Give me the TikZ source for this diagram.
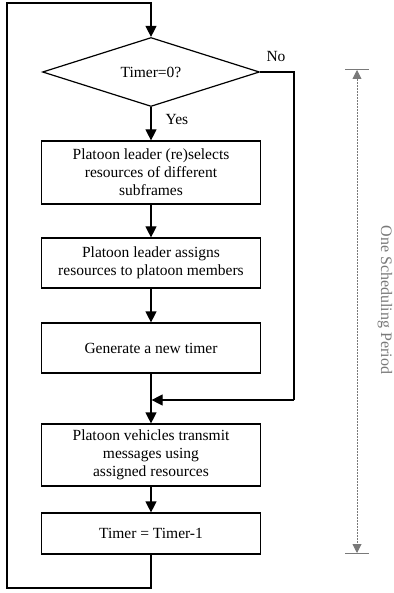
\documentclass[tikz,border=0pt]{standalone}
\usepackage{fontspec}
\setmainfont{Liberation Serif}
\usetikzlibrary{arrows.meta,shapes.geometric}
\begin{document}
\begin{tikzpicture}[x=1pt,y=-1pt,
  flow/.style={line width=1.2pt,-{Triangle[length=11pt,width=11pt]}},
  plain/.style={line width=1.2pt},
  box/.style={draw,line width=1.2pt,minimum width=219pt,align=center,font=\fontsize{15.5}{18}\selectfont,inner sep=0pt},
  lbl/.style={font=\fontsize{15.5}{18}\selectfont},
  dimc/.style={color=gray!95!black}]
\useasboundingbox (0,0) rectangle (393,593);
\node[draw,line width=1.2pt,diamond,aspect=3.15,minimum width=217pt,minimum height=69pt,inner sep=0pt,font=\fontsize{15.5}{18}\selectfont] (d) at (151,72) {Timer=0?};
\node[box,minimum height=63pt] (b1) at (151,172.5) {Platoon leader (re)selects\\resources of different\\subframes};
\node[box,minimum height=50pt] (b2) at (151,263) {Platoon leader assigns\\resources to platoon members};
\node[box,minimum height=50pt] (b3) at (151,348) {Generate a new timer};
\node[box,minimum height=62pt] (b4) at (151,455) {Platoon vehicles transmit\\messages using\\assigned resources};
\node[box,minimum height=41pt] (b5) at (151,533.5) {Timer = Timer-1};
\node[lbl] (no) at (276,57) {No};
\node[lbl] (yes) at (177,120) {Yes};
\coordinate (m) at (151,400);
\coordinate (bl) at (151,588);
\coordinate (bll) at (7,588);
\coordinate (tl) at (7,3);
\coordinate (tr) at (151,3);
\coordinate (nr) at (294,72);
\coordinate (nb) at (294,400);
\draw[flow] (d.south) -- (b1.north);
\draw[flow] (b1.south) -- (b2.north);
\draw[flow] (b2.south) -- (b3.north);
\draw[flow] (b3.south) -- (b4.north);
\draw[flow] (b4.south) -- (b5.north);
\draw[plain] (d.east) -- (nr) -- (nb);
\draw[flow] (nb) -- ([xshift=0.6pt]m);
\draw[flow] (b5.south) -- (bl) -- (bll) -- (tl) -- (tr) -- (d.north);
% dimension
\coordinate (dt) at (357,70);
\coordinate (db) at (357,553);
\draw[dimc,line width=1pt] (345,70) -- (369,70);
\draw[dimc,line width=1pt] (345,553) -- (369,553);
\draw[dimc,line width=0.9pt,dashed,dash pattern=on 2pt off 1pt,{Triangle[length=9pt,width=9pt]}-{Triangle[length=9pt,width=9pt]}] (dt) -- (db);
\node[dimc,rotate=-90,font=\fontsize{16}{18}\selectfont] (per) at (385,300) {One Scheduling Period};
\end{tikzpicture}
\end{document}
